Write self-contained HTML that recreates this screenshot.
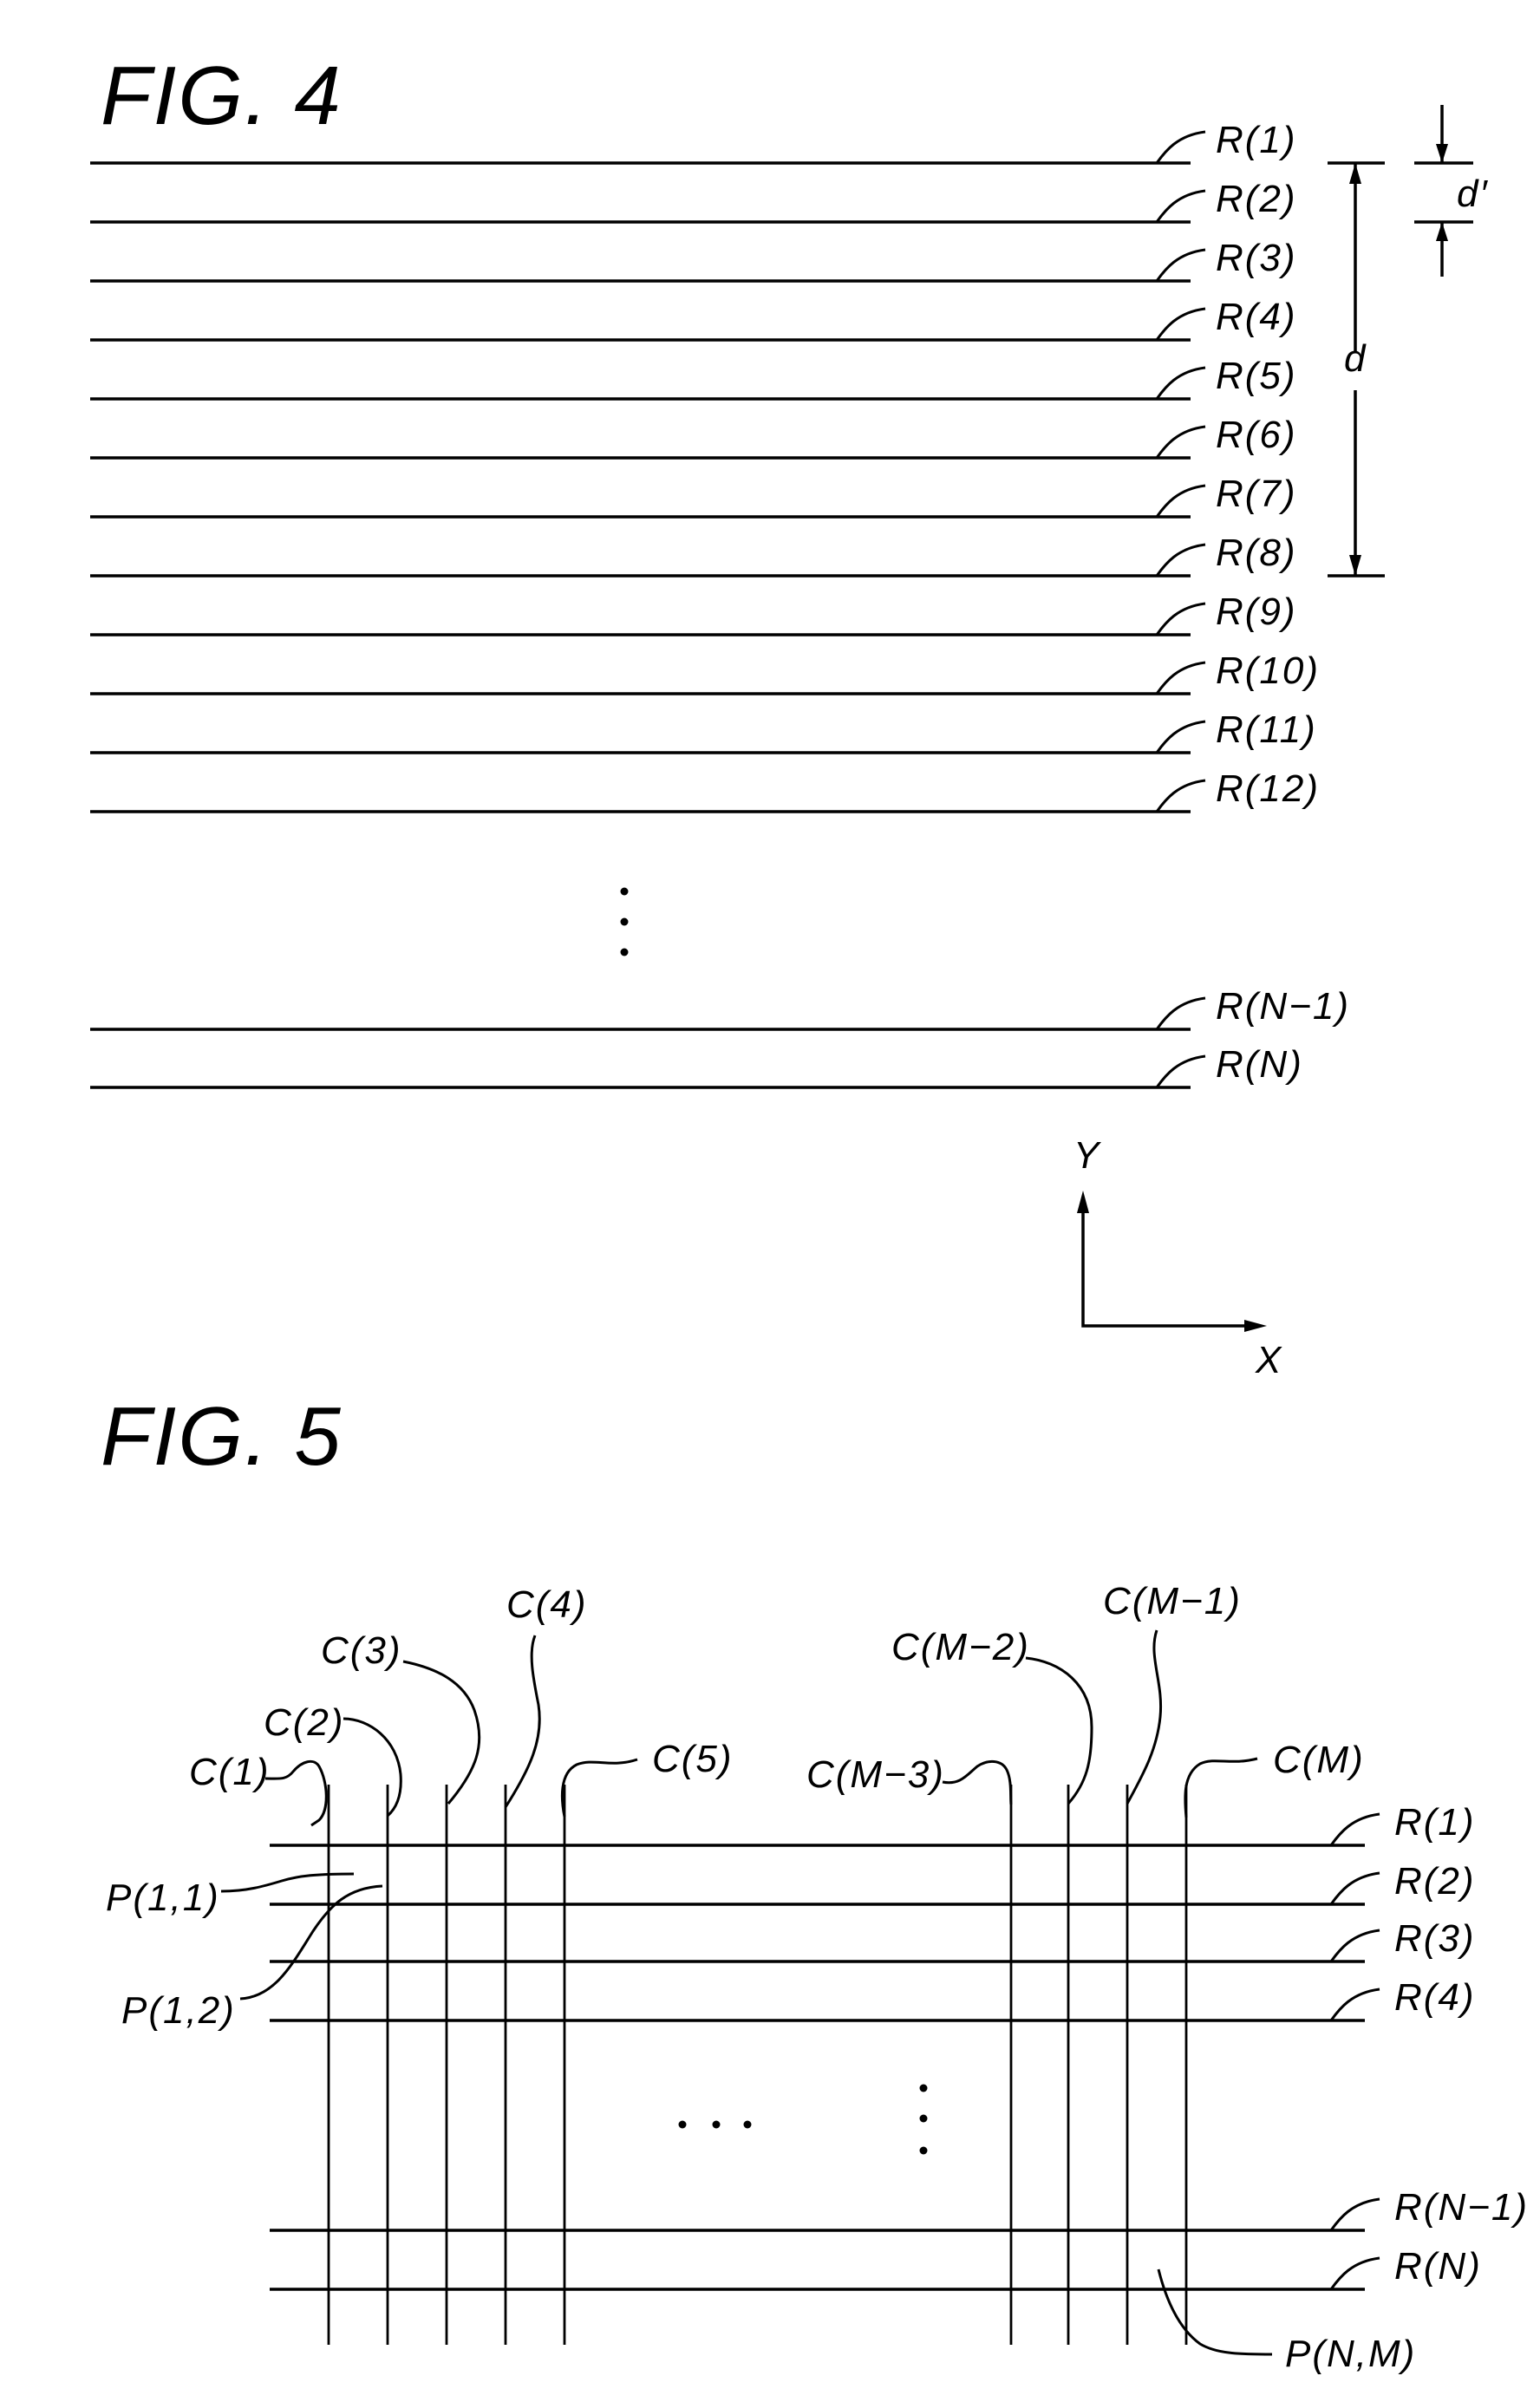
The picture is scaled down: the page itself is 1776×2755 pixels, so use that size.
<!DOCTYPE html>
<html><head><meta charset="utf-8"><style>html,body{margin:0;padding:0;background:#fff}svg{display:block}</style></head>
<body>
<svg width="1776" height="2755" viewBox="0 0 1776 2755" xmlns="http://www.w3.org/2000/svg" font-family="Liberation Sans, sans-serif" font-style="italic" fill="none" stroke="#000" stroke-width="3.5">
<g fill="#000" stroke="none">
<text x="116" y="143" font-size="96" letter-spacing="2">FIG.  4</text>
<text x="116" y="1689" font-size="96" letter-spacing="2">FIG.  5</text>
</g>
<!-- FIG 4 rows: 188 + 68*k -->
<path d="M104 188H1373M104 256H1373M104 324H1373M104 392H1373M104 460H1373M104 528H1373M104 596H1373M104 664H1373M104 732H1373M104 800H1373M104 868H1373M104 936H1373M104 1187H1373M104 1254H1373"/>
<g stroke-width="3">
<path d="M1334 188c10-14 24-32 56-36M1334 256c10-14 24-32 56-36M1334 324c10-14 24-32 56-36M1334 392c10-14 24-32 56-36M1334 460c10-14 24-32 56-36M1334 528c10-14 24-32 56-36M1334 596c10-14 24-32 56-36M1334 664c10-14 24-32 56-36M1334 732c10-14 24-32 56-36M1334 800c10-14 24-32 56-36M1334 868c10-14 24-32 56-36M1334 936c10-14 24-32 56-36M1334 1187c10-14 24-32 56-36M1334 1254c10-14 24-32 56-36"/>
</g>
<g fill="#000" stroke="none" font-size="44" letter-spacing="2">
<text x="1402" y="176">R(1)</text><text x="1402" y="244">R(2)</text><text x="1402" y="312">R(3)</text><text x="1402" y="380">R(4)</text><text x="1402" y="448">R(5)</text><text x="1402" y="516">R(6)</text><text x="1402" y="584">R(7)</text><text x="1402" y="652">R(8)</text><text x="1402" y="720">R(9)</text><text x="1402" y="788">R(10)</text><text x="1402" y="856">R(11)</text><text x="1402" y="924">R(12)</text><text x="1402" y="1175">R(N−1)</text><text x="1402" y="1242">R(N)</text>
<text x="1550" y="428">d</text><text x="1680" y="238">d′</text>
<text x="1238" y="1347">Y</text><text x="1448" y="1583">X</text>
<circle cx="720" cy="1028" r="4.5"/><circle cx="720" cy="1063" r="4.5"/><circle cx="720" cy="1098" r="4.5"/>
<path d="M1563 188l-7 24h14zM1563 664l-7-24h14zM1663 188l-7-22h14zM1663 256l-7 22h14zM1249 1373l-7 26h14zM1461 1529l-26-7v14z"/>
</g>
<path d="M1531 188H1597M1531 664H1597M1563 188V405M1563 450V664M1631 188H1699M1631 256H1699M1663 121V188M1663 256V319M1249 1390V1529H1445"/>
<!-- FIG 5 -->
<path d="M311 2128H1574M311 2196H1574M311 2262H1574M311 2330H1574M311 2572H1574M311 2640H1574"/>
<path stroke-width="2.8" d="M379 2058V2704M447 2058V2704M515 2058V2704M583 2058V2704M651 2058V2704M1166 2058V2704M1232 2058V2704M1300 2058V2704M1368 2058V2704"/>
<g stroke-width="3">
<path d="M1535 2128c10-14 24-32 56-36M1535 2196c10-14 24-32 56-36M1535 2262c10-14 24-32 56-36M1535 2330c10-14 24-32 56-36M1535 2572c10-14 24-32 56-36M1535 2640c10-14 24-32 56-36"/>
<path d="M306 2051c16 0 24 2 32-8c10-12 24-16 30-6c10 18 12 50 0 62l-9 6"/>
<path d="M396 1982c30 0 62 24 66 64c2 26-6 40-15 48"/>
<path d="M465 1916c40 8 70 24 82 56c14 40 2 70-30 108"/>
<path d="M617 1886c-8 20-2 50 4 80c6 40-10 74-38 118"/>
<path d="M735 2029c-30 10-50-2-70 6c-20 10-18 40-14 60"/>
<path d="M1087 2055c20 4 28-8 40-18c12-8 28-8 34 4c6 12 4 30 5 40"/>
<path d="M1183 1912c40 4 76 30 76 80c0 40-6 64-27 88"/>
<path d="M1334 1880c-10 30 8 60 4 100c-4 40-22 70-38 100"/>
<path d="M1450 2028c-30 8-50-2-66 6c-20 12-18 40-16 62"/>
<path d="M255 2181c30 0 50-6 70-12c20-6 40-8 83-8"/>
<path d="M277 2305c40-2 60-40 84-78c20-30 40-50 80-52"/>
<path d="M1336 2617c10 40 26 70 48 86c20 12 50 12 83 12"/>
</g>
<g fill="#000" stroke="none" font-size="44" letter-spacing="2">
<text x="1608" y="2116">R(1)</text><text x="1608" y="2184">R(2)</text><text x="1608" y="2250">R(3)</text><text x="1608" y="2318">R(4)</text><text x="1608" y="2560">R(N−1)</text><text x="1608" y="2628">R(N)</text>
<text x="218" y="2058">C(1)</text><text x="304" y="2001">C(2)</text><text x="370" y="1918">C(3)</text><text x="584" y="1865">C(4)</text><text x="752" y="2043">C(5)</text>
<text x="930" y="2061">C(M−3)</text><text x="1028" y="1914">C(M−2)</text><text x="1272" y="1861">C(M−1)</text><text x="1468" y="2044">C(M)</text>
<text x="122" y="2203">P(1,1)</text><text x="140" y="2333">P(1,2)</text><text x="1482" y="2729">P(N,M)</text>
<circle cx="787" cy="2450" r="4.5"/><circle cx="826" cy="2450" r="4.5"/><circle cx="862" cy="2450" r="4.5"/>
<circle cx="1065" cy="2408" r="4.5"/><circle cx="1065" cy="2443" r="4.5"/><circle cx="1065" cy="2480" r="4.5"/>
</g>
</svg>
</body></html>
